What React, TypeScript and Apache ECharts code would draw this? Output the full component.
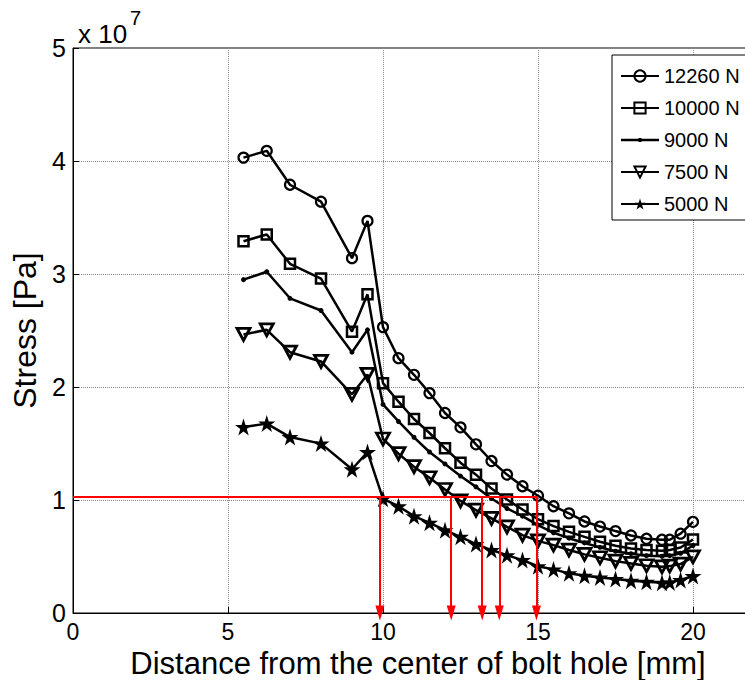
import React, { useEffect, useRef } from "react";
import * as echarts from "echarts";

// Distance from the center of bolt hole [mm]
const distances = [5.5, 6.25, 7, 8, 9, 9.5, 10, 10.5, 11, 11.5, 12, 12.5, 13, 13.5, 14, 14.5, 15, 15.5, 16, 16.5, 17, 17.5, 18, 18.5, 19, 19.25, 19.6, 20];

// Stress in units of 1e7 Pa
const stress12260 = [4.03, 4.09, 3.79, 3.64, 3.14, 3.47, 2.53, 2.255, 2.108, 1.946, 1.77, 1.643, 1.493, 1.345, 1.225, 1.122, 1.038, 0.945, 0.882, 0.81, 0.765, 0.725, 0.686, 0.657, 0.648, 0.648, 0.702, 0.807];
const stress10000 = [3.29, 3.35, 3.09, 2.96, 2.49, 2.82, 2.034, 1.87, 1.717, 1.593, 1.458, 1.33, 1.224, 1.101, 1.004, 0.916, 0.83, 0.769, 0.718, 0.674, 0.63, 0.595, 0.571, 0.557, 0.55, 0.557, 0.58, 0.651];
const stress9000 = [2.95, 3.02, 2.785, 2.677, 2.308, 2.506, 1.846, 1.695, 1.555, 1.425, 1.319, 1.212, 1.116, 1.013, 0.925, 0.857, 0.777, 0.71, 0.662, 0.62, 0.581, 0.547, 0.525, 0.507, 0.502, 0.507, 0.529, 0.597];
const stress7500 = [2.465, 2.506, 2.308, 2.226, 1.935, 2.111, 1.54, 1.41, 1.295, 1.197, 1.093, 0.992, 0.91, 0.837, 0.762, 0.689, 0.638, 0.601, 0.557, 0.519, 0.489, 0.459, 0.439, 0.418, 0.409, 0.415, 0.433, 0.497];
const stress5000 = [1.646, 1.676, 1.557, 1.499, 1.272, 1.425, 1.01, 0.945, 0.857, 0.798, 0.733, 0.674, 0.61, 0.557, 0.512, 0.468, 0.414, 0.386, 0.351, 0.33, 0.315, 0.3, 0.285, 0.277, 0.268, 0.271, 0.292, 0.327];

const seriesNames = ["12260 N", "10000 N", "9000 N", "7500 N", "5000 N"];
const xAxisTitle = "Distance from the center of bolt hole [mm]";
const yAxisTitle = "Stress [Pa]";

// Red guide lines
const thresholdStress = 1.03;
const thresholdFromX = 0;
const thresholdToX = 15;
const arrowDistances = [9.9, 12.2, 13.2, 13.75, 14.95];

const xTicks = [0, 5, 10, 15, 20];
const yTicks = [0, 1, 2, 3, 4, 5];

const FONT = "'Liberation Sans', Arial, Helvetica, sans-serif";
const STAR = "path://M50 0 L61.17 34.63 L97.55 34.55 L68.07 55.87 L79.39 90.45 L50 69 L20.61 90.45 L31.93 55.87 L2.45 34.55 L38.83 34.63 Z";
// legend icon for the dot-marker series: a line with a small dot, spanning the full 38x14 icon box
const DOT_LEGEND_ICON = "path://M0 0 L0.01 0 L0 0.01 Z M38 14 L37.99 14 L38 13.99 Z M0 5.75 L38 5.75 L38 8.25 L0 8.25 Z M17.5 5 L20.5 5 L20.5 9 L17.5 9 Z";

function pairs(ys: number[]) {
  return distances.map((x, i) => [x, ys[i]]);
}

export default function App() {
  const ref = useRef<HTMLDivElement>(null);
  useEffect(() => {
    if (!ref.current) return;
    const chart = echarts.init(ref.current, undefined, { renderer: "svg" });
    const hollow = { color: "rgba(0,0,0,0)", borderColor: "#000", borderWidth: 2.2 };
    const line = { color: "#000", width: 2.5 };
    const mk = (name: string, ys: number[], symbol: string, size: any, itemStyle: any, extra: any = {}) => ({
      name,
      type: "line",
      data: pairs(ys),
      symbol,
      symbolSize: size,
      showSymbol: true,
      itemStyle,
      lineStyle: line,
      z: 3,
      ...extra,
    });
    chart.setOption({
      animation: false,
      backgroundColor: "#fff",
      textStyle: { fontFamily: FONT },
      grid: {
        left: 73,
        top: 48,
        right: -10,
        bottom: 67,
        containLabel: false,
        outerBoundsMode: "none",
        show: true,
        borderColor: "#000",
        borderWidth: 1,
      },
      legend: {
        data: [
          seriesNames[0],
          seriesNames[1],
          { name: seriesNames[2], icon: DOT_LEGEND_ICON },
          seriesNames[3],
          seriesNames[4],
        ],
        orient: "vertical",
        left: 612,
        top: 55,
        padding: [11, 40, 6, 8],
        itemWidth: 38,
        itemHeight: 14,
        itemGap: 12,
        backgroundColor: "#fff",
        borderColor: "#000",
        borderWidth: 1,
        textStyle: { fontSize: 20, lineHeight: 14, color: "#000", fontFamily: FONT },
      },
      xAxis: {
        type: "value",
        min: 0,
        max: 22,
        interval: 5,
        axisLine: { lineStyle: { color: "#000", width: 1 } },
        axisTick: { inside: true, length: 6, lineStyle: { color: "#000" } },
        axisLabel: {
          fontSize: 23,
          color: "#000",
          margin: 7,
          showMaxLabel: false,
          formatter: (v: number) => (xTicks.includes(v) ? String(v) : ""),
        },
        splitLine: { show: true, lineStyle: { color: "#8a8a8a", type: "dotted", width: 1 } },
      },
      yAxis: {
        type: "value",
        min: 0,
        max: 5,
        interval: 1,
        name: yAxisTitle,
        nameLocation: "middle",
        nameGap: 28,
        nameTextStyle: { fontSize: 32, color: "#000", fontFamily: FONT },
        axisLine: { show: true, lineStyle: { color: "#000", width: 1 } },
        axisTick: { show: true, inside: true, length: 6, lineStyle: { color: "#000" } },
        axisLabel: {
          fontSize: 25,
          color: "#000",
          margin: 7,
          formatter: (v: number) => (yTicks.includes(v) ? String(v) : ""),
        },
        splitLine: { show: true, lineStyle: { color: "#8a8a8a", type: "dotted", width: 1 } },
      },
      graphic: [
        { type: "text", left: 78, top: 21, style: { text: "x 10", fontSize: 26, fill: "#000", fontFamily: FONT } },
        { type: "text", left: 130, top: 8, style: { text: "7", fontSize: 20, fill: "#000", fontFamily: FONT } },
        {
          type: "text",
          x: 418,
          y: 663,
          style: {
            text: xAxisTitle,
            fontSize: 31,
            fill: "#000",
            fontFamily: FONT,
            align: "center",
            verticalAlign: "middle",
          },
        },
      ],
      series: [
        mk(seriesNames[0], stress12260, "circle", 10, hollow),
        mk(seriesNames[1], stress10000, "rect", 10, { color: "rgba(0,0,0,0)", borderColor: "#000", borderWidth: 2.5 }),
        mk(seriesNames[2], stress9000, "circle", 5, { color: "#000" }),
        mk(seriesNames[3], stress7500, "triangle", [13, 12], { color: "rgba(0,0,0,0)", borderColor: "#000", borderWidth: 2.8 }, { symbolRotate: 180 }),
        mk(seriesNames[4], stress5000, STAR, 17, { color: "#000" }),
        {
          name: "guides",
          type: "line",
          data: [],
          z: 5,
          markLine: {
            silent: true,
            animation: false,
            label: { show: false },
            symbol: ["none", "triangle"],
            symbolSize: [9, 15],
            lineStyle: { color: "#ff0000", width: 2, type: "solid" },
            data: [
              [
                { coord: [thresholdFromX, thresholdStress], symbol: "none" },
                { coord: [thresholdToX, thresholdStress], symbol: "none" },
              ],
              ...arrowDistances.map((x) => [
                { coord: [x, thresholdStress], symbol: "none" },
                { coord: [x, 0] },
              ]),
            ],
          },
        },
      ],
    });
    return () => chart.dispose();
  }, []);
  return <div ref={ref} style={{ position: "absolute", left: 0, top: 0, width: 745, height: 680 }} />;
}
